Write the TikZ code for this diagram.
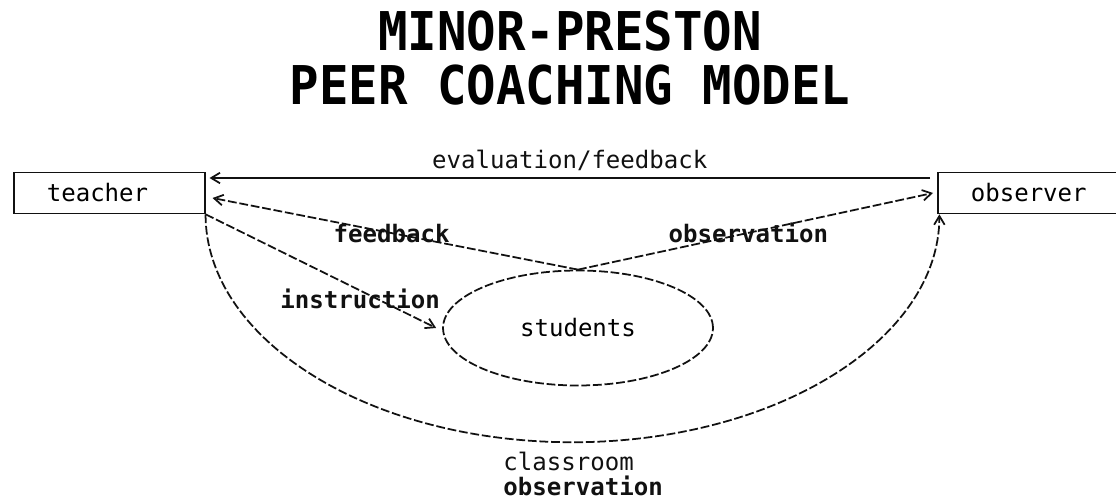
\documentclass[tikz,border=0pt]{standalone}
\usepackage{fontspec}
\usepackage{xcolor}
\usepackage{tikz}
\usetikzlibrary{positioning, arrows.meta, calc, shapes.geometric}
\newfontfamily\diagfont{DejaVu Sans Mono}
\definecolor{inkblack}{HTML}{111111}

\begin{document}
\begin{tikzpicture}[x=0.02cm, y=-0.02cm,
    actor/.style={draw=inkblack, line width=0.9pt, inner xsep=0.66cm, inner ysep=0pt,
                  text width=2.5cm, align=left, minimum height=0.82cm,
                  font=\diagfont\fontsize{13.7}{16}\selectfont},
    link/.style={draw=inkblack, line width=1pt, dash pattern=on 5pt off 1.6pt,
                 -{Straight Barb[length=5pt, width=6pt]}},
    tag/.style={font=\diagfont\bfseries\fontsize{13.7}{16}\selectfont, text=inkblack, inner sep=0pt}]
    \useasboundingbox (0,0) rectangle (1116,500);
    \clip (0,0) rectangle (1116,500);

    % heading
    \node[font=\diagfont\bfseries\fontsize{27.9}{30}\selectfont, inner sep=0pt] (head1) at (570,31)
      {\scalebox{1}[1.09]{MINOR-PRESTON}};
    \node[font=\diagfont\bfseries\fontsize{27.9}{30}\selectfont, inner sep=0pt] (head2) at (570,85)
      {\scalebox{1}[1.09]{PEER COACHING MODEL}};

    \node[actor, anchor=west] (teacher) at (13,193) {teacher};
    \node[actor, anchor=west] (observer) at (937,193) {observer};
    \node[ellipse, draw=inkblack, line width=1pt, dash pattern=on 5pt off 1.6pt,
          minimum width=5.4cm, minimum height=2.3cm, inner sep=0pt,
          font=\diagfont\fontsize{13.7}{16}\selectfont] (students) at (578,328) {students};

    \draw[link, solid] ([xshift=-0.14cm, yshift=0.3cm]observer.west) -- ([xshift=0.08cm, yshift=0.3cm]teacher.east)
      node[midway, above=0.12cm, tag, font=\diagfont\fontsize{13.7}{16}\selectfont] (evalfb) {evaluation/feedback};
    \draw[link] (students.north) -- ([xshift=0.14cm, yshift=-0.1cm]teacher.east)
      node[pos=0.51, tag] (fbtag) {feedback};
    \draw[link] (students.north) -- ([xshift=-0.08cm]observer.west)
      node[pos=0.48, tag] (obstag) {observation};
    \draw[link] (teacher.south east) -- ([xshift=-0.12cm]students.west)
      node[pos=0.67, yshift=-0.16cm, tag] (instag) {instruction};
    \draw[link] (teacher.south east) arc[start angle=180, end angle=360, x radius=7.34cm, y radius=4.56cm];

    \node[anchor=north west, align=left, inner sep=0pt, text=inkblack,
          font=\diagfont\fontsize{13.7}{14.2}\selectfont] (clsobs) at (503,452)
      {classroom\\\textbf{observation}};
\end{tikzpicture}
\end{document}
